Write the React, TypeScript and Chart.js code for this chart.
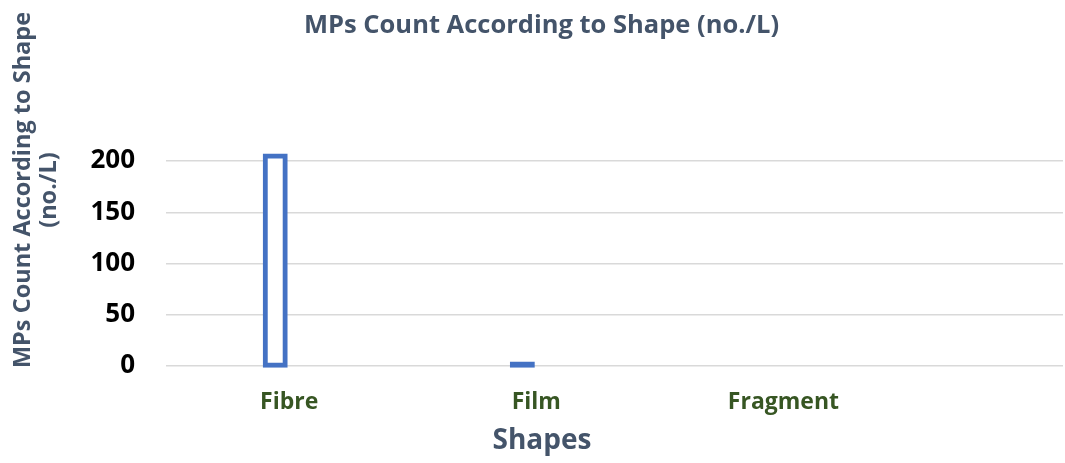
import { useEffect, useRef } from 'react';
import { Chart, registerables } from 'chart.js';

Chart.register(...registerables);

// Microplastic counts per particle shape (no./L)
const shapes = ['Fibre', 'Film', 'Fragment'];
const counts = [205, 2, 0];
const yTicks = [0, 50, 100, 150, 200];

const chartTitle = 'MPs Count According to Shape (no./L)';
const yTitleLines = ['MPs Count According to Shape', '(no./L)'];
const xTitle = 'Shapes';

const SLATE = '#44546A';
const GREEN = '#375623';
const BLUE = '#4472C4';
const FONT = '"Open Sans", Lato, sans-serif';
const BAR_BORDER = 5;

// Draws the chart title and both axis titles
const captions = {
  id: 'captions',
  afterDraw(chart: any) {
    const { ctx } = chart;
    ctx.save();
    ctx.fillStyle = SLATE;
    ctx.textAlign = 'center';
    ctx.textBaseline = 'alphabetic';
    ctx.font = `bold 25.5px ${FONT}`;
    ctx.fillText(chartTitle, 541.5, 33);
    ctx.font = `bold 28px ${FONT}`;
    ctx.fillText(xTitle, 542, 449);
    ctx.translate(0, 190);
    ctx.rotate(-Math.PI / 2);
    ctx.font = `bold 23.5px ${FONT}`;
    yTitleLines.forEach((line, i) => ctx.fillText(line, 0, 30 + i * 26));
    ctx.restore();
  },
};

export default function App() {
  const canvasRef = useRef<HTMLCanvasElement>(null);

  useEffect(() => {
    if (!canvasRef.current) return;
    const chart = new Chart(canvasRef.current, {
      type: 'bar',
      data: {
        datasets: [
          {
            label: 'MPs count',
            data: shapes.map((_, i) => ({ x: i, y: counts[i] })),
            // hollow column; a column too short for its outline is filled solid
            backgroundColor: (c: any) => {
              const y = c.chart.scales.y;
              if (!y || !c.parsed) return '#FFFFFF';
              const h = y.getPixelForValue(0) - y.getPixelForValue(c.parsed.y);
              return h < BAR_BORDER * 2 ? BLUE : '#FFFFFF';
            },
            borderColor: BLUE,
            borderWidth: BAR_BORDER,
            borderSkipped: false,
            // stroke centred on the column edge
            inflateAmount: BAR_BORDER / 2,
            barThickness: 20,
            clip: false as any,
          },
        ],
      },
      options: {
        animation: false,
        responsive: false,
        layout: { padding: { top: 161, right: 2, bottom: 0, left: 0 } },
        plugins: {
          legend: { display: false },
          tooltip: { enabled: false },
          title: { display: false },
        },
        scales: {
          x: {
            type: 'linear',
            offset: false,
            min: -0.442,
            max: 3.188,
            grid: { display: false },
            border: { display: false },
            afterBuildTicks: (s: any) => {
              s.ticks = shapes.map((_, i) => ({ value: i }));
            },
            afterFit: (s: any) => {
              s.height = 97;
            },
            ticks: {
              autoSkip: false,
              maxRotation: 0,
              labelOffset: 14,
              padding: 15,
              color: GREEN,
              font: { family: FONT, size: 23, weight: 'bold' },
              callback: (_v: any, i: number) => shapes[i] ?? '',
            },
          },
          y: {
            min: 0,
            max: 200,
            grid: { color: '#D9D9D9', lineWidth: 1.5, drawTicks: false },
            border: { display: false },
            afterBuildTicks: (s: any) => {
              s.ticks = yTicks.map((v) => ({ value: v }));
            },
            afterFit: (s: any) => {
              s.width = 166;
            },
            ticks: {
              padding: 31,
              color: '#000000',
              font: { family: FONT, size: 26, weight: 'bold' },
            },
          },
        },
      },
      plugins: [captions],
    });
    return () => chart.destroy();
  }, []);

  return (
    <div style={{ position: 'fixed', left: 0, top: 0, width: 1065, height: 463, background: '#fff' }}>
      <canvas ref={canvasRef} width={1065} height={463} style={{ display: 'block' }} />
    </div>
  );
}
